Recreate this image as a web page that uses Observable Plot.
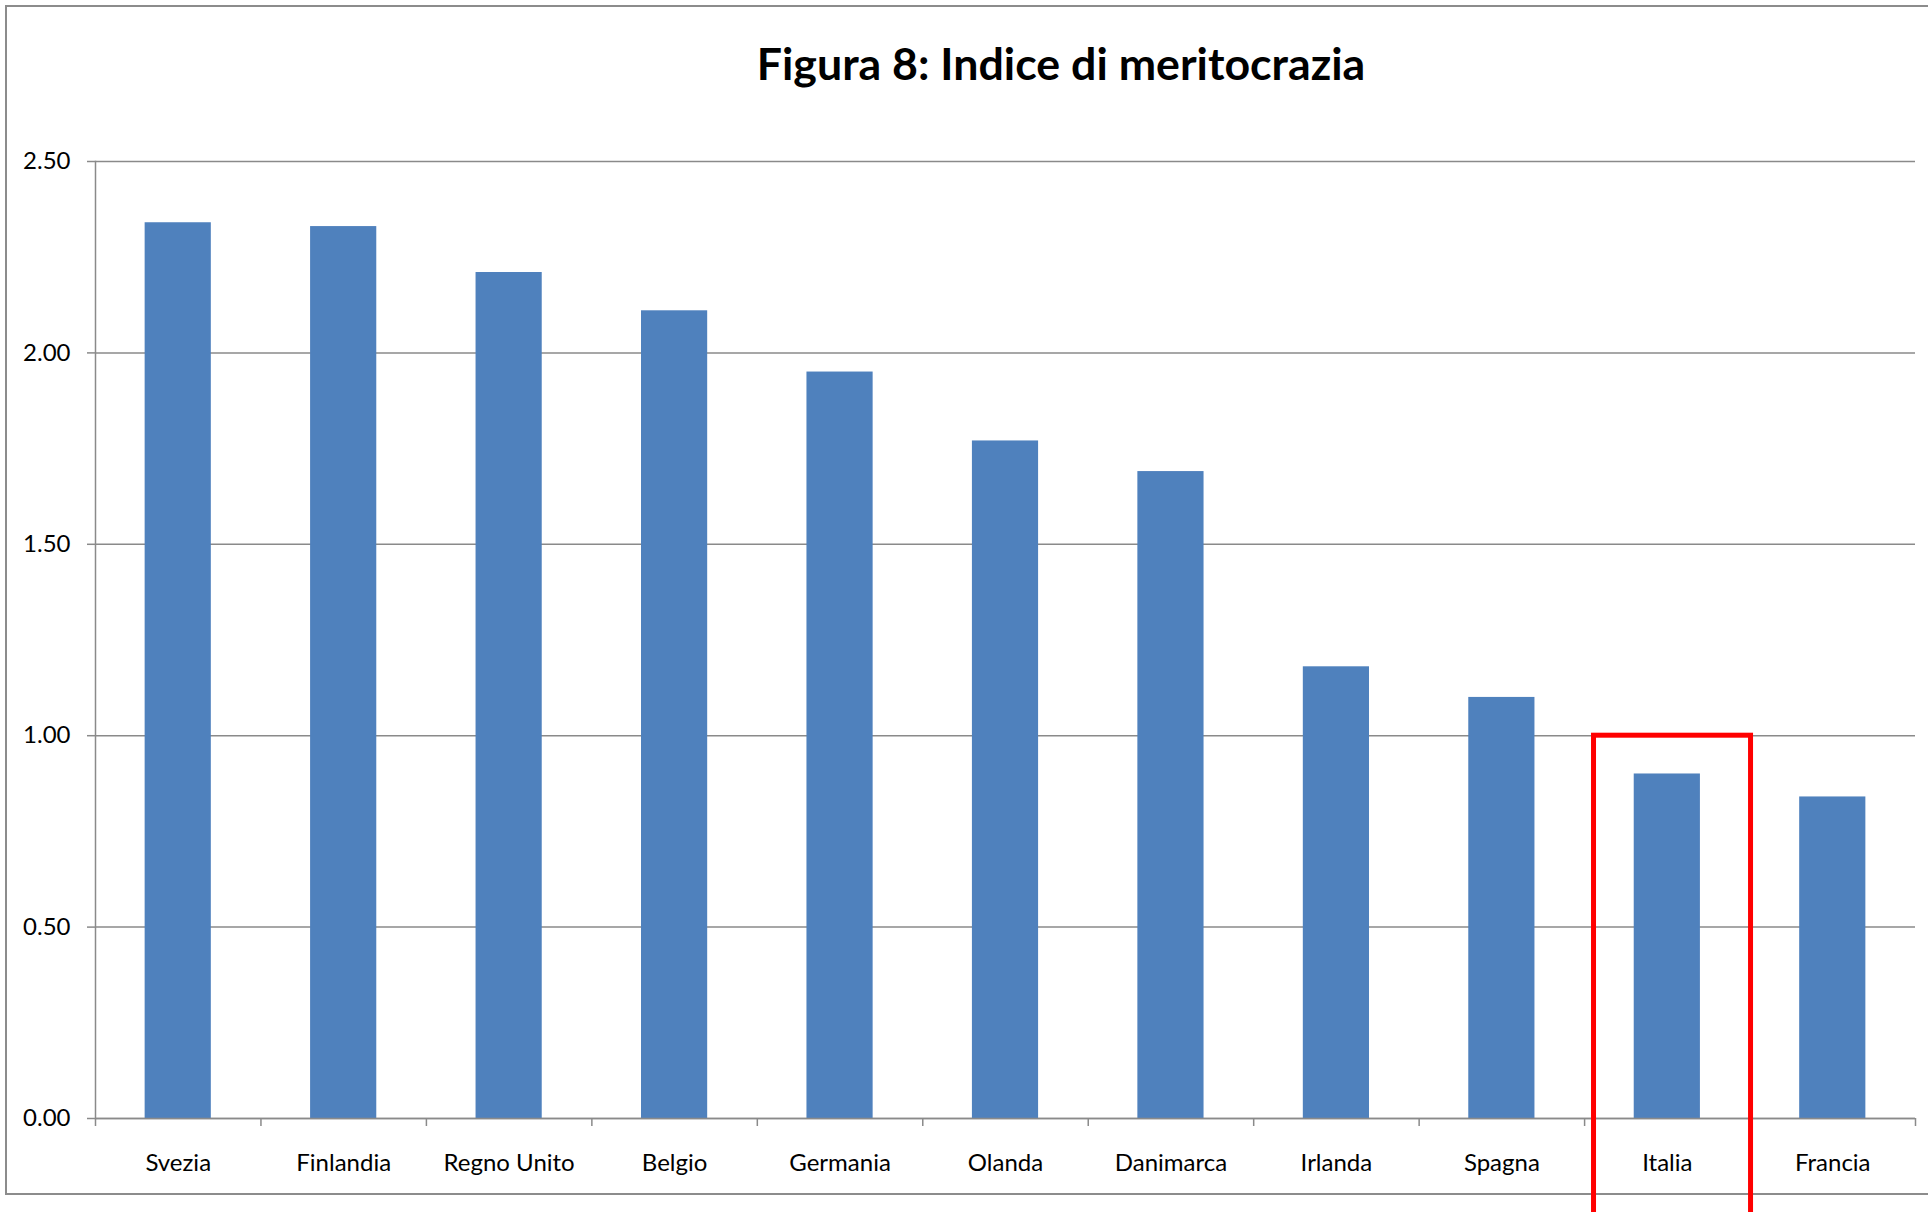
<!DOCTYPE html>
<html>
<head>
<meta charset="utf-8">
<script src="https://cdn.jsdelivr.net/npm/d3@7"></script>
<script src="https://cdn.jsdelivr.net/npm/@observablehq/plot@0.6"></script>
<style>
  html, body { margin: 0; padding: 0; background: #fff; width: 1928px; height: 1212px; overflow: hidden; }
  #wrap { position: relative; width: 1928px; height: 1212px; }
  #border { position: absolute; left: 5px; top: 5px; width: 1960px; height: 1190px; border: 2px solid #8c8c8c; box-sizing: border-box; }
  #title { position: absolute; left: 1061px; top: 41px; transform: translateX(-50%); font: bold 44.7px Lato, sans-serif; line-height: 1; white-space: nowrap; color: #000; }
  #chart { position: absolute; left: 0; top: 0; }
</style>
</head>
<body>
<div id="wrap">
  <div id="border"></div>
  <div id="title">Figura 8: Indice di meritocrazia</div>
  <div id="chart"></div>
</div>
<script>
const countries = ["Svezia", "Finlandia", "Regno Unito", "Belgio", "Germania", "Olanda", "Danimarca", "Irlanda", "Spagna", "Italia", "Francia"];
const values = [2.34, 2.33, 2.21, 2.11, 1.95, 1.77, 1.69, 1.18, 1.10, 0.90, 0.84];
const yTicks = [0, 0.5, 1, 1.5, 2, 2.5];
const highlighted = ["Italia"];

const data = countries.map((c, i) => ({country: c, value: values[i]}));

const W = 1928, H = 1212, ML = 95, MR = 13, MT = 161, MB = 94;
const step = (W - ML - MR) / countries.length;
const gray = "#8a8a8a";

const chart = Plot.plot({
  width: W,
  height: H,
  marginLeft: ML,
  marginRight: MR,
  marginTop: MT,
  marginBottom: MB,
  style: {fontFamily: "Lato, sans-serif", fontSize: "24px", color: "#000", background: "transparent"},
  x: {domain: countries, paddingInner: 0.6, paddingOuter: 0.3, round: false, label: null},
  y: {domain: [0, 2.5], label: null},
  marks: [
    Plot.gridY(yTicks, {stroke: gray, strokeOpacity: 1, strokeWidth: 1.5}),
    Plot.barY(data, {x: "country", y: "value", fill: "#4F81BD"}),
    Plot.frame({anchor: "left", stroke: gray, strokeWidth: 1.5}),
    Plot.ruleY([0], {stroke: gray, strokeWidth: 1.5}),
    Plot.axisY(yTicks, {tickFormat: d3.format(".2f"), tickSize: 8, tickPadding: 17, stroke: gray, strokeWidth: 1.5, fill: "#000", label: null}),
    Plot.axisX({tickSize: 0, tickPadding: 35, fill: "#000", label: null}),
    Plot.axisX(countries, {tickSize: 8, dx: -step / 2, tickFormat: () => "", stroke: gray, strokeWidth: 1.5, label: null}),
    Plot.axisX([countries[countries.length - 1]], {tickSize: 8, dx: step / 2, tickFormat: () => "", stroke: gray, strokeWidth: 1.5, label: null}),
    Plot.barY(highlighted, {x: d => d, y1: 1.0, y2: -0.3, fill: "none", stroke: "#FF0000", strokeWidth: 5,
      insetLeft: -0.243 * step, insetRight: -0.306 * step})
  ]
});
document.getElementById("chart").appendChild(chart);
</script>
</body>
</html>
